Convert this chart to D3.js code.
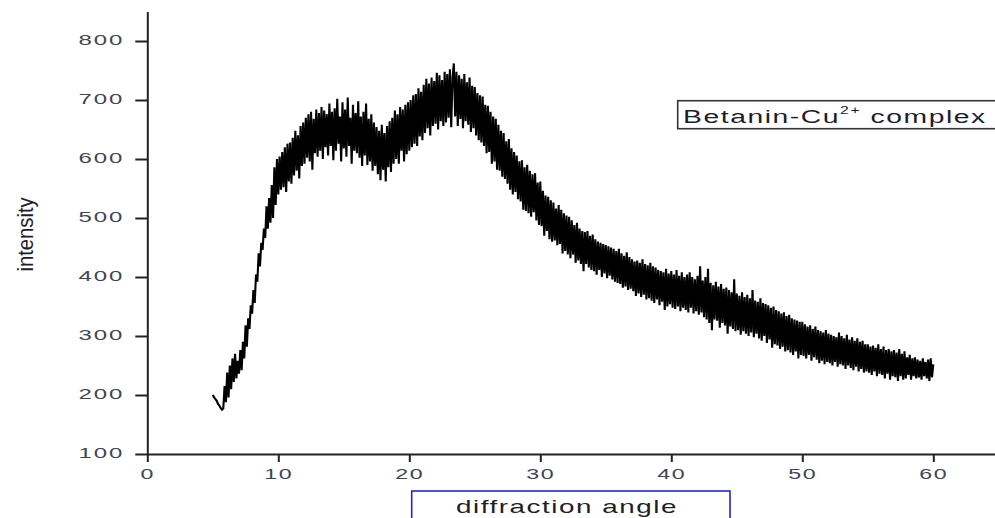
<!DOCTYPE html>
<html>
<head>
<meta charset="utf-8">
<script src="https://cdn.jsdelivr.net/npm/d3@7"></script>
<style>
  body { margin: 0; background: #fff; }
  svg { display: block; font-family: "Liberation Sans", Arial, sans-serif; }
</style>
</head>
<body>
<svg id="chart" width="995" height="518"></svg>
<script>
// diffractogram sampled every 0.1 degree, starting at 5.0
const angleStart = 5.0;
const angleStep = 0.1;
const intensity = [
  200,196,193,190,185,182,178,175,177,215,
  188,238,196,250,210,262,222,270,228,258,
  236,276,242,290,262,318,282,330,312,352,
  338,378,356,404,392,440,418,458,446,482,
  466,520,482,534,492,556,500,586,522,600,
  540,604,548,612,552,620,544,626,562,628,
  558,636,572,648,580,640,567,656,588,662,
  592,670,602,676,596,680,582,668,610,684,
  604,678,614,688,600,682,620,676,606,694,
  622,680,598,686,614,702,626,672,596,696,
  618,684,604,704,622,670,592,692,614,678,
  610,698,602,672,588,680,606,694,590,668,
  596,676,580,662,588,654,574,648,564,658,
  582,644,562,656,586,664,578,670,592,682,
  600,676,592,688,614,684,596,692,608,696,
  614,700,620,708,626,710,622,720,638,714,
  632,726,644,736,652,728,640,738,656,732,
  660,746,650,742,664,734,656,748,662,744,
  670,752,654,738,762,672,748,656,742,668,
  736,652,744,664,730,658,738,646,724,652,
  722,640,712,632,708,628,706,622,692,610,
  690,612,680,592,672,596,668,582,658,580,
  648,570,644,566,630,558,634,548,618,540,
  612,544,606,532,596,528,598,514,586,512,
  590,508,580,502,574,510,576,496,560,488,
  562,486,546,470,538,478,536,464,530,460,
  526,462,516,454,522,456,514,440,508,444,
  504,438,502,432,496,438,488,424,492,428,
  482,422,478,410,476,422,478,416,470,412,
  472,410,464,404,460,412,458,400,456,406,
  454,398,452,402,450,396,448,392,444,390,
  448,388,440,382,436,384,442,378,434,380,
  430,376,426,368,428,372,424,366,430,370,
  422,362,420,364,424,360,418,356,416,362,
  412,352,410,358,408,344,414,350,406,354,
  410,348,404,346,412,350,402,342,408,348,
  400,344,404,340,408,348,400,338,396,342,
  402,336,418,340,394,332,400,328,414,322,
  390,310,386,328,392,326,384,314,388,322,
  380,318,382,304,378,316,374,312,396,308,
  372,310,368,302,374,308,366,304,370,300,
  364,306,378,298,360,304,358,296,364,292,
  356,300,354,288,352,294,348,280,350,286,
  344,284,342,278,338,282,340,274,334,276,
  336,272,330,268,328,274,326,262,324,268,
  324,266,320,262,316,268,318,258,312,264,
  316,260,310,254,308,258,306,252,310,256,
  304,254,302,250,300,256,298,248,306,252,
  300,250,296,244,302,250,294,246,298,242,
  292,248,296,240,290,244,292,238,286,240,
  286,238,282,234,284,240,280,232,286,236,
  278,234,282,228,276,236,278,226,274,232,
  276,230,272,224,278,232,270,226,274,228,
  264,234,268,226,262,232,264,228,260,230,
  258,226,262,232,256,228,260,224,262,230,
  252
];
const xTicks = [0, 10, 20, 30, 40, 50, 60];
const xMinorTicks = [5, 15, 25, 35, 45, 55, 65];
const yTicks = [100, 200, 300, 400, 500, 600, 700, 800];
const yMinorTicks = [150, 250, 350, 450, 550, 650, 750, 850];
const xLabel = "diffraction angle";
const yLabel = "intensity";
const seriesName = "Betanin-Cu";
const seriesCharge = "2+";
const seriesSuffix = " complex";

const svg = d3.select("#chart");
const STRETCH = 1.6;  // the picture is widened horizontally
const tickColor = "#3e4656";

const x = d3.scaleLinear().domain([0, 65]).range([147.3, 998.8]);
const y = d3.scaleLinear().domain([100, 850]).range([454, 11.5]);

const points = intensity.map((v, i) => [angleStart + i * angleStep, v]);

// curve
svg.append("path")
    .datum(points)
    .attr("fill", "none")
    .attr("stroke", "#000")
    .attr("stroke-width", 2.1)
    .attr("stroke-linejoin", "miter")
    .attr("d", d3.line().x(d => x(d[0])).y(d => y(d[1])));

// y axis
const yAxis = svg.append("g").attr("transform", `translate(${x(0)},0)`);
yAxis.call(d3.axisLeft(y).tickValues(yMinorTicks).tickSize(8).tickSizeOuter(0).tickFormat(""));
yAxis.call(d3.axisLeft(y).tickValues(yTicks).tickSize(12).tickSizeOuter(0).tickPadding(10));
yAxis.selectAll("path, line").attr("stroke", "#222").attr("stroke-width", 2);
yAxis.selectAll("text")
    .attr("fill", tickColor)
    .attr("font-size", 15)
    .attr("letter-spacing", 1.2)
    .attr("x", -23 / STRETCH)
    .attr("dy", "0.22em")
    .attr("transform", `scale(${STRETCH},1)`);

// x axis
const xAxis = svg.append("g").attr("transform", `translate(0,${y(100)})`);
xAxis.call(d3.axisBottom(x).tickValues(xMinorTicks).tickSize(3).tickSizeOuter(0).tickFormat(""));
xAxis.call(d3.axisBottom(x).tickValues(xTicks).tickSize(8).tickSizeOuter(0).tickPadding(7));
xAxis.selectAll("path, line").attr("stroke", "#222").attr("stroke-width", 2);
xAxis.selectAll("text")
    .attr("fill", tickColor)
    .attr("font-size", 14.5)
    .attr("letter-spacing", 1)
    .attr("transform", `scale(${STRETCH},1)`);

// scale factor that makes a text element span a given width
function stretchTo(sel, width) {
    const w = sel.node().getBBox().width;
    return width / w;
}

// legend
svg.append("rect")
    .attr("x", 677.7).attr("y", 100.7)
    .attr("width", 330).attr("height", 28)
    .attr("fill", "#fff")
    .attr("stroke", "#333").attr("stroke-width", 1.6);

const legend = svg.append("text")
    .attr("font-size", 18)
    .attr("fill", "#1e1e2a")
    .attr("letter-spacing", 1);
legend.append("tspan").text(seriesName);
legend.append("tspan").attr("font-size", 10).attr("dy", -9).text(seriesCharge);
legend.append("tspan").attr("dy", 9).text(seriesSuffix);
const kLegend = stretchTo(legend, 304);
legend.attr("transform", `translate(683,122.7) scale(${kLegend},1)`);

// x label box
svg.append("rect")
    .attr("x", 411.7).attr("y", 491)
    .attr("width", 318.3).attr("height", 40)
    .attr("fill", "none")
    .attr("stroke", "#2323d6").attr("stroke-width", 1.6);

const xl = svg.append("text")
    .attr("font-size", 18)
    .attr("fill", "#1e1e2a")
    .attr("letter-spacing", 1)
    .attr("text-anchor", "middle")
    .text(xLabel);
const kX = stretchTo(xl, 222);
xl.attr("transform", `translate(567,512.7) scale(${kX},1)`);

// y label
svg.append("text")
    .attr("font-size", 15)
    .attr("fill", "#1e1e2a")
    .attr("text-anchor", "middle")
    .attr("transform", "translate(33,234.5) rotate(-90) scale(1.35,1.5)")
    .text(yLabel);
</script>
</body>
</html>
